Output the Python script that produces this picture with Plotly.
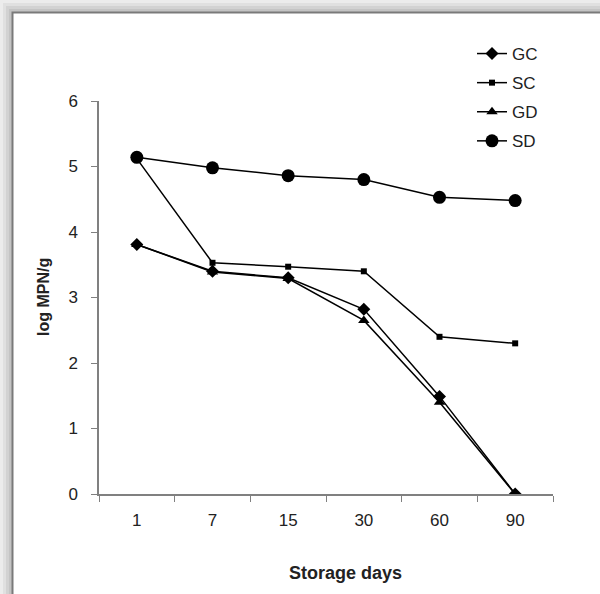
import plotly.graph_objects as go

days = ["1", "7", "15", "30", "60", "90"]
gc = [3.81, 3.40, 3.30, 2.82, 1.49, 0.0]
sc = [5.12, 3.53, 3.47, 3.40, 2.40, 2.30]
gd = [3.81, 3.39, 3.29, 2.65, 1.40, 0.0]
sd = [5.14, 4.98, 4.86, 4.80, 4.53, 4.48]

series = [
    ("GC", gc, "diamond", 10),
    ("SC", sc, "square", 6),
    ("GD", gd, "triangle-up", 10),
    ("SD", sd, "circle", 13),
]

W, H = 600, 594
L, R, T, B = 99, 47, 101, 100
PW, PH = W - L - R, H - T - B

def px(x):
    return (x - L) / PW

def py(y):
    return (H - B - y) / PH

fig = go.Figure()
for name, vals, sym, size in series:
    fig.add_trace(go.Scatter(
        x=days, y=vals, name=name, mode="lines+markers",
        line=dict(color="black", width=1.5),
        marker=dict(symbol=sym, size=size, color="black"),
        legendgroup=name,
    ))

# shadow / frame
shapes = []
shades = ["#ececec", "#e0e0e0", "#d2d2d2", "#c4c4c4"]
for i, c in enumerate(shades):
    off = 3 * i
    shapes.append(dict(type="rect", xref="paper", yref="paper", layer="below",
                       x0=px(off), x1=px(W + 10), y0=py(H + 10), y1=py(off),
                       fillcolor=c, line=dict(width=0)))
shapes.append(dict(type="rect", xref="paper", yref="paper", layer="below",
                   x0=px(12.5), x1=px(W + 10), y0=py(H + 10), y1=py(12.5),
                   fillcolor="white", line=dict(color="#7a7a7a", width=2)))

fig.update_layout(
    width=W, height=H,
    margin=dict(l=L, r=R, t=T, b=B, pad=0),
    paper_bgcolor="#f2f2f2",
    plot_bgcolor="rgba(0,0,0,0)",
    font=dict(family="Arial, Liberation Sans, sans-serif", color="#222222", size=17),
    shapes=shapes,
    showlegend=True,
    legend=dict(x=px(472), y=py(36), xanchor="left", yanchor="top",
                bgcolor="rgba(0,0,0,0)", font=dict(size=17, color="#222222"),
                tracegroupgap=4, itemwidth=30),
    annotations=[
        dict(text="<b>log MPN/g</b>", xref="paper", yref="paper",
             x=px(43), y=py(297), textangle=-90, showarrow=False,
             xanchor="center", yanchor="middle",
             font=dict(size=16, color="#222222")),
        dict(text="<b>Storage days</b>", xref="paper", yref="paper",
             x=px(345), y=py(573), showarrow=False,
             xanchor="center", yanchor="middle",
             font=dict(size=18, color="#222222")),
    ],
)
fig.update_xaxes(
    type="category", categoryorder="array", categoryarray=days,
    range=[-0.5, 5.5], showline=True, linecolor="#808080", linewidth=1.5,
    ticks="outside", ticklen=6, tickcolor="#808080", tickson="boundaries",
    showgrid=False, zeroline=False, ticklabelstandoff=10,
)
fig.update_yaxes(
    range=[0, 6], dtick=1, showline=True, linecolor="#808080", linewidth=1.5,
    ticks="outside", ticklen=6, tickcolor="#808080",
    showgrid=False, zeroline=False, ticklabelstandoff=10,
)

fig.write_html("out.html", config={"displayModeBar": False},
               post_script="document.body.style.margin='0';")
